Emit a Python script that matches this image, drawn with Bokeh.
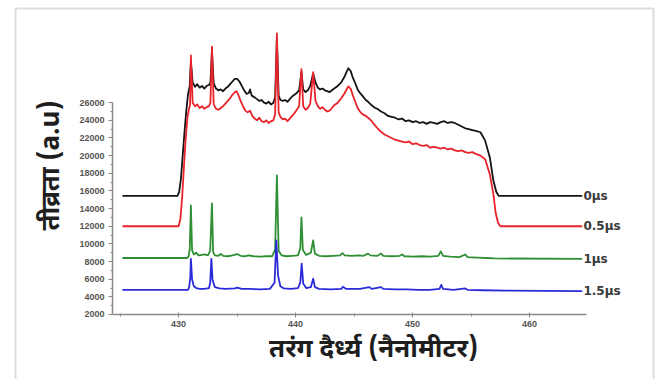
import math
from bokeh.plotting import figure
from bokeh.models import (Range1d, FixedTicker, BoxAnnotation, ColumnDataSource, Label)
from bokeh.core.properties import value
from bokeh.embed import file_html
from bokeh.resources import INLINE

# Emission spectra at four gate delays (wavelength in nm, intensity in a.u.)
wl_0us = [425.2, 429.9, 430.05, 430.2, 430.35, 430.5, 430.65, 430.8, 430.95, 431.05,
          431.2, 431.4, 431.6, 431.8, 432.0, 432.2, 432.4, 432.6, 432.72, 432.85,
          433.0, 433.2, 433.4, 433.6, 433.8, 434.0, 434.2, 434.4, 434.6, 434.8,
          435.0, 435.2, 435.4, 435.6, 435.8, 436.0, 436.1, 436.25, 436.5, 436.7,
          436.9, 437.1, 437.3, 437.5, 437.7, 437.9, 438.1, 438.25, 438.4, 438.55,
          438.7, 438.9, 439.1, 439.3, 439.5, 439.7, 439.9, 440.1, 440.3, 440.5,
          440.65, 440.85, 441.05, 441.25, 441.5, 441.7, 441.9, 442.1, 442.3, 442.5,
          442.7, 442.9, 443.1, 443.3, 443.6, 443.9, 444.2, 444.5, 444.7, 444.9,
          445.1, 445.3, 445.5, 445.7, 446.0, 446.2, 446.5, 446.8, 447.0, 447.3,
          447.6, 447.9, 448.2, 448.5, 448.8, 449.1, 449.4, 449.7, 450.0, 450.3,
          450.6, 450.9, 451.2, 451.5, 451.8, 452.1, 452.4, 452.7, 453.0, 453.3,
          453.6, 453.9, 454.2, 454.5, 454.8, 455.1, 455.4, 455.8, 456.2, 456.6,
          456.9, 457.15, 457.35, 464.5]
int_0us = [15450, 15450, 15900, 17400, 20000, 22600, 25000, 26900, 27900, 30600,
           28300, 27800, 28100, 27700, 27900, 27600, 27900, 28000, 28300, 31800,
           28200, 27600, 27400, 27500, 27300, 27600, 27800, 28100, 28400, 28700,
           28700, 28400, 27900, 27400, 27000, 27100, 27500, 26800, 26600, 26400,
           26200, 26300, 26000, 25900, 26100, 25800, 26000, 26600, 33200, 26800,
           26300, 26200, 26300, 26100, 26400, 26700, 26900, 27100, 27400, 29500,
           27500, 27200, 27400, 27900, 29300, 28300, 27700, 27500, 27600, 27400,
           27300, 27200, 27400, 27600, 27900, 28300, 29000, 29900, 29600, 28800,
           28200, 27500, 27100, 26800, 26300, 26100, 25700, 25400, 25300, 25000,
           24800, 24500, 24400, 24300, 24100, 24200, 23900, 24000, 23800, 23900,
           23700, 23800, 23600, 23800, 23700, 23600, 23800, 23900, 23700, 23800,
           23700, 23500, 23300, 23100, 23000, 22900, 22800, 22650, 21700, 19800,
           17200, 15900, 15450, 15450]

wl_05us = [425.2, 430.0, 430.15, 430.3, 430.45, 430.6, 430.75, 430.9, 430.98, 431.05,
           431.2, 431.4, 431.6, 431.8, 432.0, 432.2, 432.4, 432.6, 432.72, 432.85,
           433.0, 433.2, 433.4, 433.6, 433.8, 434.0, 434.2, 434.4, 434.6, 434.8,
           434.95, 435.1, 435.3, 435.5, 435.7, 435.9, 436.1, 436.3, 436.5, 436.7,
           436.9, 437.1, 437.3, 437.5, 437.7, 437.9, 438.1, 438.25, 438.4, 438.55,
           438.7, 438.9, 439.1, 439.3, 439.5, 439.7, 439.9, 440.1, 440.3, 440.5,
           440.65, 440.85, 441.05, 441.25, 441.5, 441.7, 441.9, 442.1, 442.3, 442.5,
           442.7, 442.9, 443.1, 443.3, 443.6, 443.9, 444.2, 444.5, 444.7, 444.9,
           445.1, 445.3, 445.5, 445.7, 446.0, 446.2, 446.5, 446.8, 447.0, 447.3,
           447.6, 447.9, 448.2, 448.5, 448.8, 449.1, 449.4, 449.7, 450.0, 450.3,
           450.6, 450.9, 451.2, 451.5, 451.8, 452.1, 452.4, 452.7, 453.0, 453.3,
           453.6, 453.9, 454.2, 454.5, 454.8, 455.1, 455.4, 455.8, 456.2, 456.6,
           456.9, 457.1, 457.3, 457.5, 464.5]
int_05us = [12000, 12000, 12800, 15200, 18600, 21800, 24300, 25400, 25700, 31350,
            26000, 25600, 25800, 25400, 25600, 25300, 25500, 25600, 26000, 32350,
            25800, 25300, 25200, 25400, 25600, 25900, 26200, 26500, 26900, 27200,
            27300, 26900, 26200, 25600, 25100, 24900, 25100, 24500, 24200, 24000,
            24300, 23900, 23800, 24000, 23700, 23900, 24000, 24700, 33850, 24900,
            24400, 24100, 24200, 23900, 24200, 24500, 24800, 25200, 25600, 29800,
            25600, 25200, 25400, 25900, 29450, 26200, 25600, 25300, 25500, 25200,
            25000, 25100, 25400, 25700, 26000, 26500, 27100, 27850, 27600, 26800,
            26100, 25400, 25000, 24700, 24500, 24300, 23900, 23400, 23100, 22700,
            22400, 22200, 22000, 21800, 21700, 21600, 21500, 21600, 21300, 21400,
            21200, 21100, 21200, 20900, 21000, 20900, 20800, 20900, 20700, 20800,
            20600, 20500, 20600, 20400, 20300, 20400, 20200, 20000, 19600, 17900,
            15700, 13500, 12400, 12000, 12000]

wl_1us = [425.2, 430.7, 430.85, 430.95, 431.05, 431.15, 431.3, 431.5, 431.7, 432.0,
          432.2, 432.5, 432.7, 432.85, 432.95, 433.1, 433.4, 433.6, 433.8, 434.2,
          434.6, 435.0, 435.3, 435.7, 436.0, 436.4, 437.0, 437.5, 438.0, 438.25,
          438.4, 438.55, 438.8, 439.2, 439.7, 440.2, 440.4, 440.5, 440.62, 440.9,
          441.3, 441.5, 441.65, 442.0, 442.6, 443.2, 443.8, 444.0, 444.2, 444.8,
          445.4, 445.8, 446.2, 446.4, 447.0, 447.3, 447.5, 448.2, 448.9, 449.1,
          449.3, 450.0, 450.8, 451.5, 452.2, 452.4, 452.6, 453.2, 454.0, 454.5,
          454.7, 455.5, 456.3, 457.0, 464.5]
int_1us = [8400, 8400, 8550, 9400, 14350, 9300, 8800, 9000, 8700, 8750,
           8800, 8700, 9200, 14600, 9100, 8700, 8650, 8850, 8650, 8600,
           8700, 8850, 8650, 8600, 8700, 8600, 8550, 8600, 8600, 9400,
           17750, 9200, 8700, 8600, 8650, 8700, 9500, 13000, 9300, 8750,
           9000, 10400, 8900, 8650, 8600, 8650, 8700, 8950, 8700, 8650,
           8700, 8650, 8900, 8700, 8650, 8900, 8650, 8600, 8650, 8800,
           8600, 8550, 8600, 8550, 8650, 9150, 8650, 8550, 8500, 8800,
           8500, 8450, 8400, 8350, 8300]

wl_15us = [425.2, 430.8, 430.9, 431.0, 431.05, 431.15, 431.3, 431.5, 431.8, 432.2,
           432.6, 432.7, 432.8, 432.9, 433.1, 433.5, 434.0, 434.8, 435.0, 435.4,
           436.0, 437.0, 437.8, 438.2, 438.35, 438.5, 438.7, 439.0, 439.6, 440.2,
           440.4, 440.52, 440.65, 440.9, 441.3, 441.5, 441.65, 442.0, 443.0, 443.9,
           444.05, 444.3, 445.5, 446.3, 446.5, 447.3, 447.5, 448.5, 449.5, 450.5,
           451.5, 452.3, 452.45, 452.6, 453.5, 454.5, 454.7, 456.0, 458.0, 464.5]
int_15us = [4800, 4800, 5100, 6200, 8300, 6000, 5200, 5000, 4900, 4900,
            5000, 5600, 8300, 5900, 5100, 4950, 4900, 4950, 5050, 4900,
            4900, 4850, 4900, 5600, 10400, 6400, 5200, 4950, 4900, 5000,
            5600, 7750, 5500, 5000, 5100, 6050, 5100, 4900, 4850, 4900,
            5150, 4900, 4900, 5100, 4900, 5100, 4900, 4850, 4850, 4800,
            4800, 4900, 5350, 4900, 4800, 4950, 4800, 4750, 4700, 4650]

delay_labels = ["0\u03bcs", "0.5\u03bcs", "1\u03bcs", "1.5\u03bcs"]
series_colors = ["#141414", "#e8232b", "#2f8f34", "#2a2ad8"]

x_ticks = [430, 440, 450, 460]
x_minor = [425, 435, 445, 455]
y_ticks = list(range(2000, 26001, 2000))
y_minor = list(range(3000, 26000, 2000))

x_title = "तरंग दैर्ध्य (नैनोमीटर)"
y_title = "तीव्रता (a.u)"

deva = "'Noto Sans Devanagari', 'Lohit Devanagari', 'Noto Sans', sans-serif"

# The plot area fills the whole canvas; both axes sit at fixed data positions
# inside it so that the grey frame can be drawn around everything.
X0, Y0 = 424.35, 2000
p = figure(width=667, height=379, output_backend="svg", toolbar_location=None,
           x_range=Range1d(414.777, 471.786), y_range=Range1d(-5365, 37577),
           min_border=0, min_border_left=0, min_border_right=0,
           min_border_top=0, min_border_bottom=0)
p.outline_line_color = None
p.xgrid.visible = False
p.ygrid.visible = False
p.background_fill_color = "white"
p.border_fill_color = "white"

series = [(wl_0us, int_0us), (wl_05us, int_05us), (wl_1us, int_1us), (wl_15us, int_15us)]
for (wl, inten), col in zip(series, series_colors):
    p.line(wl, inten, line_color=col, line_width=1.8, line_join="round")

# delay tags at the right-hand end of each trace
end_x = [wl[-1] + 0.1 for wl, _ in series]
end_y = [inten[-1] for _, inten in series]
tag_src = ColumnDataSource(dict(x=end_x, y=end_y, t=delay_labels))
p.text(x="x", y="y", text="t", source=tag_src, text_font=value("DejaVu Sans"),
       text_font_style="bold", text_font_size="12px", text_color="#3a3a3a",
       text_baseline="middle", text_align="left")

xa = p.xaxis[0]
xa.fixed_location = Y0
xa.bounds = (X0, 464.85)
xa.ticker = FixedTicker(ticks=x_ticks, minor_ticks=x_minor)
xa.major_label_text_font = "Liberation Sans"
xa.major_label_text_font_style = "bold"
xa.major_label_text_font_size = "9px"
xa.major_label_text_color = "#555555"
xa.major_label_standoff = 4
xa.axis_line_color = "#8a8a8a"
xa.axis_line_width = 1.5
xa.major_tick_line_color = "#8a8a8a"
xa.minor_tick_line_color = "#8a8a8a"
xa.major_tick_in = 2
xa.major_tick_out = 3
xa.minor_tick_in = 1
xa.minor_tick_out = 2

ya = p.yaxis[0]
ya.fixed_location = X0
ya.bounds = (2000, 26000)
ya.ticker = FixedTicker(ticks=y_ticks, minor_ticks=y_minor)
ya.major_label_text_font = "Liberation Sans"
ya.major_label_text_font_style = "bold"
ya.major_label_text_font_size = "9px"
ya.major_label_text_color = "#555555"
ya.major_label_standoff = 4
ya.axis_line_color = "#8a8a8a"
ya.axis_line_width = 1.5
ya.major_tick_line_color = "#8a8a8a"
ya.minor_tick_line_color = "#8a8a8a"
ya.major_tick_in = 0
ya.major_tick_out = 4
ya.minor_tick_in = 0
ya.minor_tick_out = 2

# axis titles, placed beside the axes
p.add_layout(Label(x=446.66, y=-2192, text=x_title, text_font=deva,
                   text_font_style="bold", text_font_size="26px",
                   text_color="#1e1e1e", text_align="center",
                   text_baseline="middle"))
p.add_layout(Label(x=419.3, y=18880, text=y_title, angle=math.pi / 2,
                   text_font=deva, text_font_style="bold",
                   text_font_size="26px", text_color="#1e1e1e",
                   text_align="center", text_baseline="middle"))

# grey frame around the whole figure
frame_box = BoxAnnotation(left=15, right=653, top=8, bottom=395,
                          left_units="canvas", right_units="canvas",
                          top_units="canvas", bottom_units="canvas",
                          fill_color=None, fill_alpha=0,
                          line_color="#8c8c8c", line_width=2, level="overlay")
p.add_layout(frame_box)

open("out.html", "w").write(file_html(p, INLINE))
